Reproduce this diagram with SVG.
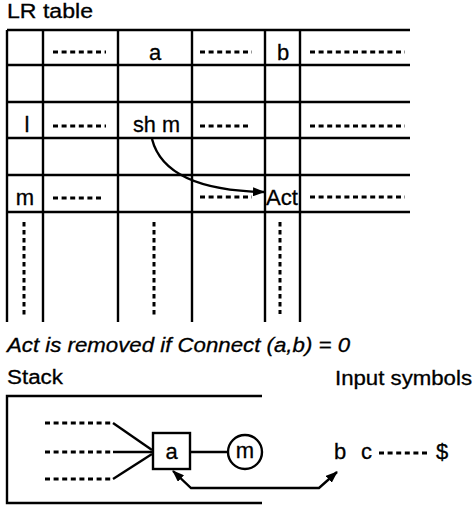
<svg xmlns="http://www.w3.org/2000/svg" width="474" height="511" viewBox="0 0 474 511">
<style>
text{font-family:"Liberation Sans",Arial,sans-serif;fill:#000;stroke:#000;stroke-width:0.3}
.t{font-size:22px}
.lbl{font-size:20px}
.ln{stroke:#000;stroke-width:2.4;fill:none}
.dot{stroke:#000;stroke-width:3;stroke-dasharray:5 3.6;fill:none}
.vdot{stroke:#000;stroke-width:3;stroke-dasharray:4.5 3.5;fill:none}
</style>
<defs>
<marker id="ah" viewBox="0 0 12 9" refX="11" refY="4.5" markerWidth="12" markerHeight="9" markerUnits="userSpaceOnUse" orient="auto-start-reverse">
<path d="M0,0 L12,4.5 L0,9 Z" fill="#000"/>
</marker>
</defs>
<rect width="474" height="511" fill="#fff"/>

<g id="title">
<text class="lbl" x="7" y="18" textLength="86" lengthAdjust="spacingAndGlyphs">LR table</text>
</g>

<g id="lr-table">
<g class="ln">
<line x1="7" y1="30" x2="410" y2="30"/>
<line x1="7" y1="65" x2="410" y2="65"/>
<line x1="7" y1="102" x2="410" y2="102"/>
<line x1="7" y1="138" x2="410" y2="138"/>
<line x1="7" y1="175" x2="410" y2="175"/>
<line x1="7" y1="212" x2="410" y2="212"/>
<line x1="7" y1="30" x2="7" y2="322"/>
<line x1="43" y1="30" x2="43" y2="322"/>
<line x1="118" y1="30" x2="118" y2="322"/>
<line x1="192" y1="30" x2="192" y2="322"/>
<line x1="265" y1="30" x2="265" y2="322"/>
<line x1="300" y1="30" x2="300" y2="322"/>
</g>
<g class="dot">
<line x1="53" y1="52" x2="106" y2="52"/>
<line x1="200" y1="52" x2="252" y2="52"/>
<line x1="310" y1="52" x2="405" y2="52"/>
<line x1="53" y1="126" x2="106" y2="126"/>
<line x1="200" y1="126" x2="250" y2="126"/>
<line x1="310" y1="126" x2="405" y2="126"/>
<line x1="53" y1="198" x2="104" y2="198"/>
<line x1="200" y1="197" x2="252" y2="197"/>
<line x1="310" y1="197" x2="405" y2="197"/>
</g>
<g class="vdot">
<line x1="24" y1="222" x2="24" y2="318"/>
<line x1="154" y1="222" x2="154" y2="316"/>
<line x1="280" y1="222" x2="280" y2="314"/>
</g>
<g class="t">
<text x="155" y="60" text-anchor="middle">a</text>
<text x="283" y="60" text-anchor="middle">b</text>
<text x="27" y="132" text-anchor="middle">l</text>
<text x="133" y="132" textLength="47" lengthAdjust="spacingAndGlyphs">sh m</text>
<text x="25" y="205" text-anchor="middle">m</text>
<text x="266" y="205" textLength="32" lengthAdjust="spacingAndGlyphs">Act</text>
</g>
</g>

<g id="note">
<text class="lbl" x="7" y="352" font-style="italic" textLength="343" lengthAdjust="spacingAndGlyphs">Act is removed if Connect (a,b) = 0</text>
</g>

<g id="stack">
<text class="lbl" x="7" y="384" textLength="56" lengthAdjust="spacingAndGlyphs">Stack</text>
<path class="ln" d="M262,396 L7,396 L7,503 L262,503"/>
<g class="dot">
<line x1="45" y1="423" x2="113" y2="423"/>
<line x1="45" y1="452" x2="113" y2="452"/>
<line x1="45" y1="479" x2="113" y2="479"/>
</g>
</g>

<g id="node-a">
<rect x="153" y="433" width="37" height="36" fill="#fff" stroke="#000" stroke-width="2.4"/>
<text class="t" x="171.5" y="459" text-anchor="middle">a</text>
</g>

<g id="node-m">
<circle cx="245" cy="452" r="17" fill="#fff" stroke="#000" stroke-width="2.4"/>
<text class="t" x="245" y="458" text-anchor="middle">m</text>
</g>

<g id="input-symbols">
<text class="lbl" x="335" y="385" textLength="137" lengthAdjust="spacingAndGlyphs">Input symbols</text>
<text class="t" x="334" y="459">b</text>
<text class="t" x="361" y="459">c</text>
<line class="dot" x1="379" y1="453" x2="428" y2="453"/>
<text class="t" x="436" y="459">$</text>
</g>

<g id="connectors">
<path class="ln" d="M152,139 Q165,190 264,192" marker-end="url(#ah)"/>
<line class="ln" x1="113" y1="423" x2="152" y2="450"/>
<line class="ln" x1="113" y1="452" x2="152" y2="452"/>
<line class="ln" x1="113" y1="479" x2="152" y2="454"/>
<line class="ln" x1="190" y1="452" x2="228" y2="452"/>
<path class="ln" d="M173,471 L191,488 L319,488 L337,472" marker-start="url(#ah)" marker-end="url(#ah)"/>
</g>
</svg>
